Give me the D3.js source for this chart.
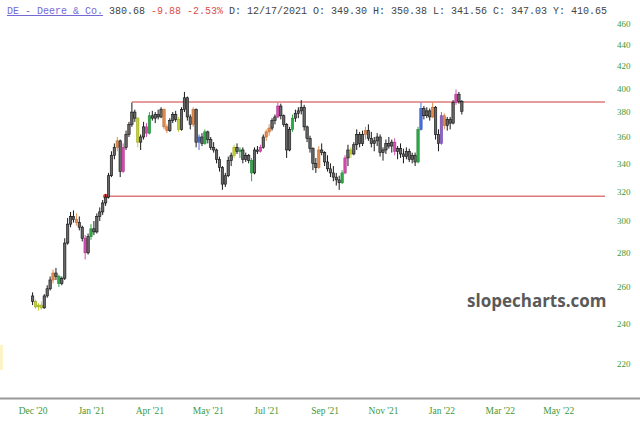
<!DOCTYPE html>
<html>
<head>
<meta charset="utf-8">
<script src="https://cdn.jsdelivr.net/npm/d3@7"></script>
<style>
  body { margin: 0; background: #fff; }
  svg { display: block; }
</style>
</head>
<body>
<div id="chart"></div>
<script>
// daily bars, Dec 2020 -> Jan 2022
const opens = [
  255, 252, 249, 250, 248.5, 255, 259, 264, 268, 266,
  262, 265, 286, 298, 303, 301, 299, 296, 289, 280,
  290, 295, 293, 303, 306, 312, 316, 331, 346, 352,
  357, 334, 352, 362, 370, 380, 375, 356, 360, 368,
  363, 377, 375, 378, 376, 382, 368, 365, 373, 378,
  374, 366, 382, 392, 376, 370, 382, 356, 360, 355,
  364, 358, 352, 350, 343, 337, 325, 331, 342, 346,
  352, 349, 350, 343, 346, 342, 333, 350, 349, 352,
  360, 364, 367, 373, 376, 385, 377, 370, 350, 366,
  375, 379, 381, 384, 368, 359, 351, 340, 337, 350,
  348, 341, 336, 333, 330, 328, 326, 333, 344, 350,
  347, 354, 362, 355, 362, 365, 359, 355, 357, 360,
  348, 350, 355, 353, 356, 349, 351, 347, 345, 349,
  343, 346, 341, 366, 383, 377, 381, 376, 384, 362,
  355, 377, 369, 374, 371, 388, 395, 389
];
const highs = [
  257, 253, 251, 252, 256, 261, 266, 270, 271, 267,
  266, 289, 302, 306, 307, 305, 303, 297, 291, 292,
  298, 300, 305, 309, 314, 318, 333, 349, 355, 360,
  358, 355, 365, 372, 388, 382, 376, 362, 372, 371,
  380, 381, 380, 382, 384, 383, 370, 375, 380, 381,
  376, 384, 397, 393, 378, 384, 383, 362, 363, 366,
  365, 360, 356, 351, 345, 338, 333, 345, 348, 354,
  355, 352, 352, 348, 347, 344, 352, 353, 354, 362,
  366, 370, 375, 378, 388, 387, 378, 371, 368, 378,
  382, 384, 390, 386, 369, 361, 352, 344, 353, 355,
  349, 346, 340, 338, 333, 331, 335, 346, 354, 352,
  356, 366, 364, 365, 368, 370, 364, 360, 363, 362,
  352, 358, 360, 358, 359, 353, 355, 351, 352, 351,
  348, 348, 368, 388, 385, 384, 383, 388, 385, 366,
  380, 379, 376, 376, 390, 399, 397, 390
];
const lows = [
  250, 248, 247, 247.5, 248, 254, 258, 262, 264, 260,
  261, 264, 285, 296, 299, 297, 294, 287, 276, 279,
  288, 291, 292, 300, 304, 310, 315, 330, 343, 349,
  330, 333, 350, 360, 368, 372, 352, 350, 358, 360,
  362, 373, 371, 374, 375, 366, 363, 364, 371, 372,
  364, 365, 380, 373, 366, 368, 352, 350, 353, 354,
  355, 350, 348, 340, 334, 321, 323, 330, 338, 344,
  347, 344, 340, 341, 340, 327, 332, 347, 348, 351,
  357, 361, 365, 370, 375, 374, 368, 344, 349, 364,
  372, 375, 378, 365, 356, 348, 335, 333, 336, 346,
  338, 334, 330, 327, 324, 321, 325, 332, 338, 344,
  346, 350, 352, 353, 358, 357, 352, 349, 353, 345,
  342, 347, 351, 348, 346, 343, 344, 340, 343, 341,
  340, 338, 340, 365, 374, 375, 373, 375, 358, 349,
  354, 366, 365, 366, 370, 386, 387, 378
];
const closes = [
  252, 249, 250, 248.5, 255, 259, 264, 268, 266, 262,
  265, 286, 298, 303, 301, 299, 296, 289, 280, 290,
  295, 293, 303, 306, 312, 316, 331, 346, 352, 357,
  334, 352, 362, 370, 380, 375, 356, 360, 368, 363,
  377, 375, 378, 376, 382, 368, 365, 373, 378, 374,
  366, 382, 392, 376, 370, 382, 356, 360, 355, 364,
  358, 352, 350, 343, 337, 325, 331, 342, 346, 352,
  349, 350, 343, 346, 342, 333, 350, 349, 352, 360,
  364, 367, 373, 376, 385, 377, 370, 350, 366, 375,
  379, 381, 384, 368, 359, 351, 340, 337, 350, 348,
  341, 336, 333, 330, 328, 326, 333, 344, 350, 347,
  354, 362, 355, 362, 365, 359, 355, 357, 360, 348,
  350, 355, 353, 356, 349, 351, 347, 345, 349, 343,
  346, 341, 366, 383, 377, 381, 376, 384, 362, 355,
  377, 369, 374, 371, 388, 395, 389, 380.68
];

// pattern-highlighted bars: [bar index, pattern]
const signals = [
  [1, "yellow"], [2, "yellow"], [3, "yellow"], [7, "orange"], [9, "green"],
  [15, "orange"], [18, "pink"], [20, "green"], [29, "orange"], [31, "pink"],
  [36, "yellow"], [39, "pink"], [40, "green"], [45, "orange"], [46, "orange"],
  [50, "yellow"], [55, "orange"], [57, "blue"], [59, "green"], [69, "yellow"],
  [71, "green"], [75, "green"], [78, "pink"], [80, "orange"], [81, "orange"],
  [84, "pink"], [89, "green"], [98, "orange"], [106, "green"], [107, "pink"],
  [109, "yellow"], [114, "orange"], [124, "pink"], [132, "green"], [133, "blue"],
  [137, "orange"], [140, "purple"], [141, "orange"], [145, "pink"]
];

// support / resistance lines: [price, starting bar]
const levels = [[388.3, 34], [316.5, 25]];

const xLabels = ["Dec '20", "Jan '21", "Apr '21", "May '21", "Jul '21",
                 "Sep '21", "Nov '21", "Jan '22", "Mar '22", "May '22"];
const barsPerLabel = 20;
const yTicks = [220, 240, 260, 280, 300, 320, 340, 360, 380, 400, 420, 440, 460];

const palette = {
  yellow: "#c3d12e", orange: "#e38a4c", green: "#2fa84a", pink: "#d64bb0",
  blue: "#4a6fdc", purple: "#8d5fcf"
};

const width = 640, height = 429;

const svg = d3.select("#chart")
  .append("svg")
  .attr("width", width)
  .attr("height", height);

const x = d3.scaleLinear()
  .domain([0, barsPerLabel * (xLabels.length - 1)])
  .range([32.6, 558.2]);

const y = d3.scaleLog()
  .domain([220, 460])
  .range([364, 24]);

// faint marker at left edge
svg.append("rect")
  .attr("x", 0).attr("y", 345).attr("width", 3).attr("height", 25)
  .attr("fill", "#fdf3c8");

// header line
const header = svg.append("text")
  .attr("x", 7)
  .attr("y", 14)
  .style("font-family", "'Liberation Mono', 'DejaVu Sans Mono', monospace")
  .style("font-size", "10px")
  .attr("fill", "#444")
  .attr("xml:space", "preserve");
header.append("tspan").text("DE - Deere & Co.")
  .attr("fill", "#7569d6")
  .style("text-decoration", "underline");
header.append("tspan").text(" 380.68 ");
header.append("tspan").text("-9.88 -2.53%").attr("fill", "#e0504a");
header.append("tspan").text(" D: 12/17/2021 O: 349.30 H: 350.38 L: 341.56 C: 347.03 Y: 410.65");

// watermark
svg.append("text")
  .attr("x", 467)
  .attr("y", 307)
  .text("slopecharts.com")
  .style("font-family", "'Open Sans', sans-serif")
  .style("font-weight", "bold")
  .style("font-size", "17px")
  .attr("fill", "#5a5a5a");

// y axis on the right
const yAxis = svg.append("g")
  .attr("transform", "translate(617,0)")
  .call(d3.axisRight(y).tickValues(yTicks).tickFormat(d3.format("d")).tickSize(0));
yAxis.select(".domain").remove();
yAxis.selectAll("text")
  .attr("x", 0)
  .style("font-family", "'Liberation Serif', 'DejaVu Serif', serif")
  .style("font-size", "9px")
  .attr("fill", "#3c9a3c");

// x axis
const xAxis = svg.append("g")
  .attr("transform", "translate(0,404)")
  .call(d3.axisBottom(x)
    .tickValues(xLabels.map((d, i) => i * barsPerLabel))
    .tickFormat((d, i) => xLabels[i])
    .tickSize(0));
xAxis.select(".domain").remove();
xAxis.selectAll("text")
  .style("font-family", "'Liberation Serif', 'DejaVu Serif', serif")
  .style("font-size", "9.5px")
  .attr("fill", "#3c9a3c");

// bottom rule
svg.append("line")
  .attr("x1", 0).attr("x2", width)
  .attr("y1", 398.5).attr("y2", 398.5)
  .attr("stroke", "#999")
  .attr("stroke-width", 2);

// horizontal levels
svg.selectAll(".level")
  .data(levels)
  .enter()
  .append("line")
  .attr("class", "level")
  .attr("x1", d => x(d[1]))
  .attr("x2", 605)
  .attr("y1", d => y(d[0]))
  .attr("y2", d => y(d[0]))
  .attr("stroke", "#e07a7a")
  .attr("stroke-width", 1.5);

svg.append("circle")
  .attr("cx", x(levels[1][1]))
  .attr("cy", y(levels[1][0]))
  .attr("r", 2.5)
  .attr("fill", "#e04848");

// candles
const signalMap = new Map(signals);
const bars = closes.map((c, i) => ({
  i: i, o: opens[i], h: highs[i], l: lows[i], c: c,
  color: signalMap.has(i) ? palette[signalMap.get(i)] : null
}));

const candle = svg.selectAll(".candle")
  .data(bars)
  .enter()
  .append("g")
  .attr("class", "candle");

candle.append("line")
  .attr("x1", d => x(d.i))
  .attr("x2", d => x(d.i))
  .attr("y1", d => y(d.h))
  .attr("y2", d => y(d.l))
  .attr("stroke", d => d.color || "#1a1a1a")
  .attr("stroke-width", 1);

candle.append("rect")
  .attr("x", d => x(d.i) - 1.2)
  .attr("width", 2.4)
  .attr("y", d => y(Math.max(d.o, d.c)))
  .attr("height", d => Math.max(1, Math.abs(y(d.o) - y(d.c))))
  .attr("fill", d => d.color || "#666")
  .attr("stroke", d => d.color ? d3.color(d.color).darker(0.6) : "#111")
  .attr("stroke-width", 0.6);
</script>
</body>
</html>
